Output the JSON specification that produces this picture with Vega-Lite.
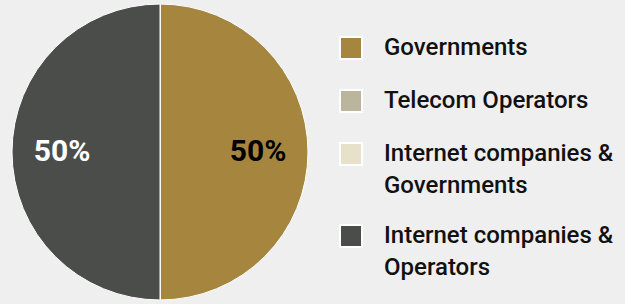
{
  "$schema": "https://vega.github.io/schema/vega-lite/v6.json",
  "width": 320,
  "height": 304,
  "padding": {"left": 0, "top": 0, "right": 11, "bottom": 0},
  "background": "#efefef",
  "config": {"view": {"stroke": null}, "font": "Roboto"},
  "data": {
    "values": [
      {"category": "Governments", "share": 0.5},
      {"category": "Telecom Operators", "share": 0},
      {"category": "Internet companies & Governments", "share": 0},
      {"category": "Internet companies & Operators", "share": 0.5}
    ]
  },
  "encoding": {
    "theta": {"field": "share", "type": "quantitative", "stack": true},
    "order": {"field": "category", "sort": "ascending"}
  },
  "layer": [
    {
      "mark": {"type": "arc", "outerRadius": 148, "stroke": "white", "strokeWidth": 1},
      "encoding": {
        "color": {
          "field": "category",
          "type": "nominal",
          "scale": {
            "domain": ["Governments", "Telecom Operators", "Internet companies & Governments", "Internet companies & Operators"],
            "range": ["#a6863f", "#bab59c", "#e6e1c8", "#4b4d4a"]
          },
          "legend": {
            "title": null,
            "orient": "none",
            "legendX": 339,
            "legendY": 36,
            "padding": 0,
            "symbolType": "square",
            "symbolSize": 484,
            "symbolStrokeColor": "white",
            "symbolStrokeWidth": 2,
            "symbolOpacity": 1,
            "labelFont": "Roboto",
            "labelFontSize": 24,
            "labelFontWeight": 500,
            "labelColor": "#111111",
            "labelOffset": 21,
            "labelLimit": 400,
            "rowPadding": 23,
            "labelExpr": "datum.label == 'Internet companies & Governments' ? ['Internet companies &', 'Governments'] : datum.label == 'Internet companies & Operators' ? ['Internet companies &', 'Operators'] : datum.label",
            "encode": {"labels": {"update": {"lineHeight": {"value": 32}}}}
          }
        }
      }
    },
    {
      "transform": [{"filter": "datum.share > 0"}],
      "mark": {"type": "text", "radius": 98, "font": "Roboto", "fontSize": 30, "fontWeight": "bold"},
      "encoding": {
        "text": {"field": "share", "type": "quantitative", "format": ".0%"},
        "color": {
          "condition": {"test": "datum.category === 'Governments'", "value": "#000000"},
          "value": "#ffffff"
        }
      }
    }
  ]
}
